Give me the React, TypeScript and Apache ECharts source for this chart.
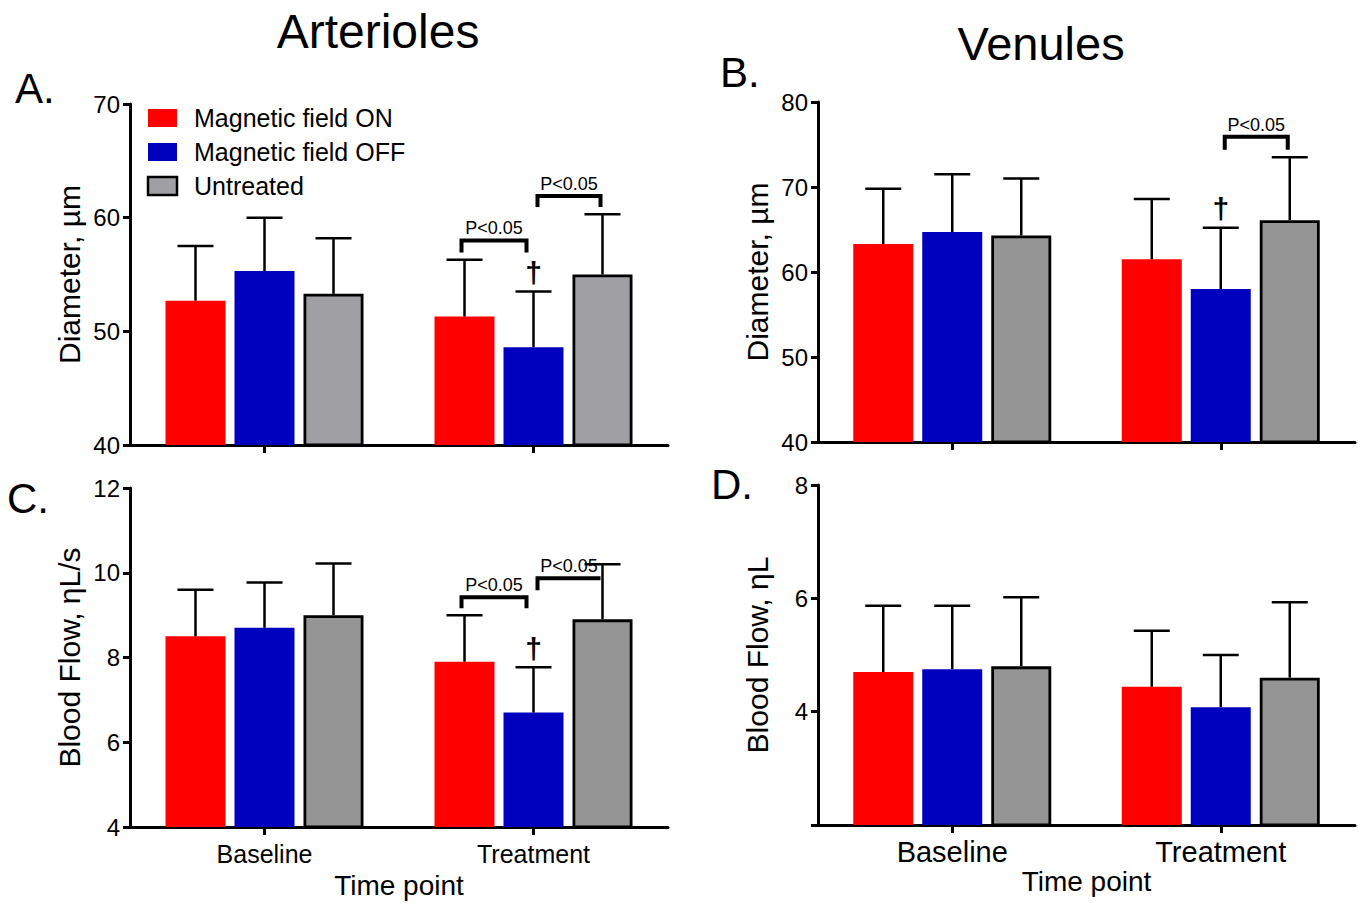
import React, { useEffect, useRef } from 'react';
import * as echarts from 'echarts';

// ---------- data ----------
const categories = ['Baseline', 'Treatment'];
const groupNames = ['Magnetic field ON', 'Magnetic field OFF', 'Untreated'];

// Panel A: Arterioles diameter (µm) – mean and SD
const artDiamOn = [52.7, 51.3];
const artDiamOnSD = [4.8, 5.0];
const artDiamOff = [55.3, 48.6];
const artDiamOffSD = [4.7, 4.9];
const artDiamUntreated = [53.3, 55.0];
const artDiamUntreatedSD = [4.9, 5.3];

// Panel B: Venules diameter (µm)
const venDiamOn = [63.3, 61.5];
const venDiamOnSD = [6.5, 7.1];
const venDiamOff = [64.7, 58.0];
const venDiamOffSD = [6.8, 7.2];
const venDiamUntreated = [64.3, 66.1];
const venDiamUntreatedSD = [6.7, 7.4];

// Panel C: Arterioles blood flow (ηL/s)
const artFlowOn = [8.5, 7.9];
const artFlowOnSD = [1.1, 1.1];
const artFlowOff = [8.7, 6.7];
const artFlowOffSD = [1.07, 1.07];
const artFlowUntreated = [9.0, 8.9];
const artFlowUntreatedSD = [1.22, 1.3];

// Panel D: Venules blood flow (ηL)
const venFlowOn = [4.7, 4.44];
const venFlowOnSD = [1.17, 0.99];
const venFlowOff = [4.75, 4.08];
const venFlowOffSD = [1.12, 0.92];
const venFlowUntreated = [4.8, 4.6];
const venFlowUntreatedSD = [1.22, 1.33];

// y-axis ticks
const yTicksA = [40, 50, 60, 70];
const yTicksB = [40, 50, 60, 70, 80];
const yTicksC = [4, 6, 8, 10, 12];
const yTicksD = [4, 6, 8];

// significance brackets: [category, fromGroup, toGroup, yValue, leftLeg, rightLeg]
const bracketsA = [
  [1, 0, 1, 58.0, 12, 12],
  [1, 1, 2, 61.9, 11, 11],
];
const bracketsB = [[1, 1, 2, 75.9, 13, 13]];
const bracketsC = [
  [1, 0, 1, 9.42, 11, 11],
  [1, 1, 2, 9.87, 12, 0],
];
const bracketsD: number[][] = [];
const bracketLabel = 'P<0.05';

// daggers: [category, group]
const daggersA = [[1, 1]];
const daggersB = [[1, 1]];
const daggersC = [[1, 1]];
const daggersD: number[][] = [];

const panelTitles = ['Arterioles', 'Venules'];
const panelLetters = ['A.', 'B.', 'C.', 'D.'];

// ---------- styles ----------
const FONT = "'Liberation Sans', Arial, Helvetica, sans-serif";
const NARROW = "'Liberation Sans Narrow', 'Arial Narrow', 'Liberation Sans', sans-serif";
const RED = '#ff0000';
const BLUE = '#0000bf';
const BAR_W = 60;
const BAR_STEP = 69;

const panels = [
  {
    grid: { left: 130, top: 104, width: 538, height: 341 },
    ticks: yTicksA, interval: 10, name: 'Diameter, µm', nameGap: 46,
    gray: '#a0a0a4', showX: false, xFont: 25, xName: '',
    means: [artDiamOn, artDiamOff, artDiamUntreated],
    sds: [artDiamOnSD, artDiamOffSD, artDiamUntreatedSD],
    brackets: bracketsA, daggers: daggersA,
  },
  {
    grid: { left: 818, top: 102, width: 537, height: 340 },
    ticks: yTicksB, interval: 10, name: 'Diameter, µm', nameGap: 46,
    gray: '#959595', showX: false, xFont: 25, xName: '',
    means: [venDiamOn, venDiamOff, venDiamUntreated],
    sds: [venDiamOnSD, venDiamOffSD, venDiamUntreatedSD],
    brackets: bracketsB, daggers: daggersB,
  },
  {
    grid: { left: 130, top: 488, width: 538, height: 339 },
    ticks: yTicksC, interval: 2, name: 'Blood Flow, ηL/s', nameGap: 46,
    gray: '#959595', showX: true, xFont: 25, xName: 'Time point', xNameFont: 28, xNameGap: 44, xMargin: 14,
    means: [artFlowOn, artFlowOff, artFlowUntreated],
    sds: [artFlowOnSD, artFlowOffSD, artFlowUntreatedSD],
    brackets: bracketsC, daggers: daggersC,
  },
  {
    grid: { left: 818, top: 485, width: 537, height: 340 },
    ticks: yTicksD, interval: 2, min: 2, name: 'Blood Flow, ηL', nameGap: 46,
    gray: '#959595', showX: true, xFont: 29, xName: 'Time point', xNameFont: 28, xNameGap: 42, xMargin: 12,
    means: [venFlowOn, venFlowOff, venFlowUntreated],
    sds: [venFlowOnSD, venFlowOffSD, venFlowUntreatedSD],
    brackets: bracketsD, daggers: daggersD,
  },
];

function buildOption() {
  const grids: any[] = [];
  const xAxes: any[] = [];
  const yAxes: any[] = [];
  const series: any[] = [];

  panels.forEach((p, i) => {
    grids.push({ ...p.grid, containLabel: false });
    const ticks = p.ticks;
    const yMin = p.min !== undefined ? p.min : ticks[0];
    const yMax = ticks[ticks.length - 1];
    xAxes.push({
      type: 'category',
      gridIndex: i,
      data: categories,
      axisLine: { show: true, lineStyle: { color: '#000', width: 3 } },
      axisTick: { show: true, alignWithLabel: true, length: 8, lineStyle: { color: '#000', width: 3 } },
      axisLabel: {
        show: p.showX, color: '#000', fontFamily: FONT, fontSize: p.xFont, margin: p.xMargin || 12,
      },
      name: p.xName,
      nameLocation: 'middle',
      nameGap: p.xNameGap || 40,
      nameTextStyle: { color: '#000', fontFamily: FONT, fontSize: p.xNameFont || 26 },
      splitLine: { show: false },
    });
    yAxes.push({
      type: 'value',
      gridIndex: i,
      min: yMin,
      max: yMax,
      interval: p.interval,
      axisLine: { show: true, lineStyle: { color: '#000', width: 3 } },
      axisTick: { show: true, length: 7, lineStyle: { color: '#000', width: 3 } },
      axisLabel: {
        color: '#000', fontFamily: NARROW, fontSize: 24, margin: 10,
        formatter: (v: number) => (ticks.indexOf(v) >= 0 ? String(v) : ''),
      },
      splitLine: { show: false },
      name: p.name,
      nameLocation: 'middle',
      nameGap: p.nameGap,
      nameRotate: 90,
      nameTextStyle: { color: '#000', fontFamily: FONT, fontSize: 30 },
    });

    const colors = [RED, BLUE, p.gray];
    p.means.forEach((m, s) => {
      series.push({
        type: 'bar',
        name: groupNames[s],
        xAxisIndex: i,
        yAxisIndex: i,
        data: m,
        barWidth: BAR_W,
        barGap: '15%',
        itemStyle: {
          color: colors[s],
          borderColor: s === 2 ? '#000' : colors[s],
          borderWidth: s === 2 ? 2.8 : 0,
        },
        emphasis: { disabled: true },
        z: 2,
      });
    });

    // error bars (upper only)
    const errData: number[][] = [];
    p.means.forEach((m, s) => m.forEach((v, c) => errData.push([c, s, v, p.sds[s][c]])));
    series.push({
      type: 'custom',
      xAxisIndex: i,
      yAxisIndex: i,
      data: errData,
      clip: false,
      z: 3,
      silent: true,
      renderItem: (_params: any, api: any) => {
        const c = api.value(0), s = api.value(1), mean = api.value(2), sd = api.value(3);
        const base = api.coord([c, mean]);
        const top = api.coord([c, mean + sd]);
        const x = base[0] + (s - 1) * BAR_STEP;
        return {
          type: 'group',
          children: [
            { type: 'line', shape: { x1: x, y1: base[1], x2: x, y2: top[1] }, style: { stroke: '#000', lineWidth: 2.5 } },
            { type: 'line', shape: { x1: x - 18, y1: top[1], x2: x + 18, y2: top[1] }, style: { stroke: '#000', lineWidth: 2.5 } },
          ],
        };
      },
    });

    // significance brackets
    if (p.brackets.length) {
      series.push({
        type: 'custom',
        xAxisIndex: i,
        yAxisIndex: i,
        data: p.brackets,
        clip: false,
        z: 4,
        silent: true,
        renderItem: (_params: any, api: any) => {
          const c = api.value(0), from = api.value(1), to = api.value(2), y = api.value(3);
          const ll = api.value(4), rl = api.value(5);
          const pt = api.coord([c, y]);
          const x1 = pt[0] + (from - 1) * BAR_STEP + (from === 0 ? -3 : 4);
          const x2 = pt[0] + (to - 1) * BAR_STEP + (to === 1 ? -7 : -2);
          const yy = pt[1];
          return {
            type: 'group',
            children: [
              {
                type: 'polyline',
                shape: { points: [[x1, yy + ll], [x1, yy], [x2, yy], [x2, yy + rl]] },
                style: { stroke: '#000', lineWidth: 4, fill: 'none', lineJoin: 'miter' },
              },
              {
                type: 'text',
                x: (x1 + x2) / 2,
                y: yy - 12,
                style: {
                  text: bracketLabel, fill: '#000', font: `18px ${NARROW}`,
                  align: 'center', verticalAlign: 'middle',
                },
              },
            ],
          };
        },
      });
    }

    // daggers
    if (p.daggers.length) {
      const dData = p.daggers.map(([c, s]) => [c, s, p.means[s][c] + p.sds[s][c]]);
      series.push({
        type: 'custom',
        xAxisIndex: i,
        yAxisIndex: i,
        data: dData,
        clip: false,
        z: 4,
        silent: true,
        renderItem: (_params: any, api: any) => {
          const c = api.value(0), s = api.value(1), top = api.value(2);
          const pt = api.coord([c, top]);
          return {
            type: 'text',
            x: pt[0] + (s - 1) * BAR_STEP,
            y: pt[1] - 19,
            style: { text: '†', fill: '#000', font: `bold 30px ${FONT}`, align: 'center', verticalAlign: 'middle' },
          };
        },
      });
    }
  });

  // graphic: titles, panel letters, legend
  const graphic: any[] = [
    { type: 'text', x: 378, y: 31, style: { text: panelTitles[0], font: `48px ${FONT}`, fill: '#000', align: 'center', verticalAlign: 'middle' } },
    { type: 'text', x: 1041, y: 43, style: { text: panelTitles[1], font: `47px ${FONT}`, fill: '#000', align: 'center', verticalAlign: 'middle' } },
    { type: 'text', x: 15, y: 88, style: { text: panelLetters[0], font: `42px ${FONT}`, fill: '#000', align: 'left', verticalAlign: 'middle' } },
    { type: 'text', x: 720, y: 72, style: { text: panelLetters[1], font: `42px ${FONT}`, fill: '#000', align: 'left', verticalAlign: 'middle' } },
    { type: 'text', x: 7, y: 498, style: { text: panelLetters[2], font: `42px ${FONT}`, fill: '#000', align: 'left', verticalAlign: 'middle' } },
    { type: 'text', x: 711, y: 484, style: { text: panelLetters[3], font: `42px ${FONT}`, fill: '#000', align: 'left', verticalAlign: 'middle' } },
  ];
  const legendColors = [RED, BLUE, panels[0].gray];
  groupNames.forEach((n, k) => {
    const y = 109 + k * 34;
    graphic.push({
      type: 'rect',
      shape: { x: 148, y, width: 29, height: 18 },
      style: { fill: legendColors[k], stroke: k === 2 ? '#000' : legendColors[k], lineWidth: k === 2 ? 2.5 : 0 },
    });
    graphic.push({
      type: 'text', x: 194, y: y + 9,
      style: { text: n, font: `25px ${FONT}`, fill: '#000', align: 'left', verticalAlign: 'middle' },
    });
  });

  return {
    animation: false,
    backgroundColor: '#ffffff',
    grid: grids,
    xAxis: xAxes,
    yAxis: yAxes,
    series,
    graphic,
  };
}

export default function App() {
  const ref = useRef<HTMLDivElement>(null);
  useEffect(() => {
    if (!ref.current) return;
    const chart = echarts.init(ref.current, undefined, { renderer: 'svg' });
    chart.setOption(buildOption() as any);
    return () => chart.dispose();
  }, []);
  return (
    <div
      ref={ref}
      style={{ position: 'fixed', left: 0, top: 0, width: 1358, height: 903, background: '#fff' }}
    />
  );
}
